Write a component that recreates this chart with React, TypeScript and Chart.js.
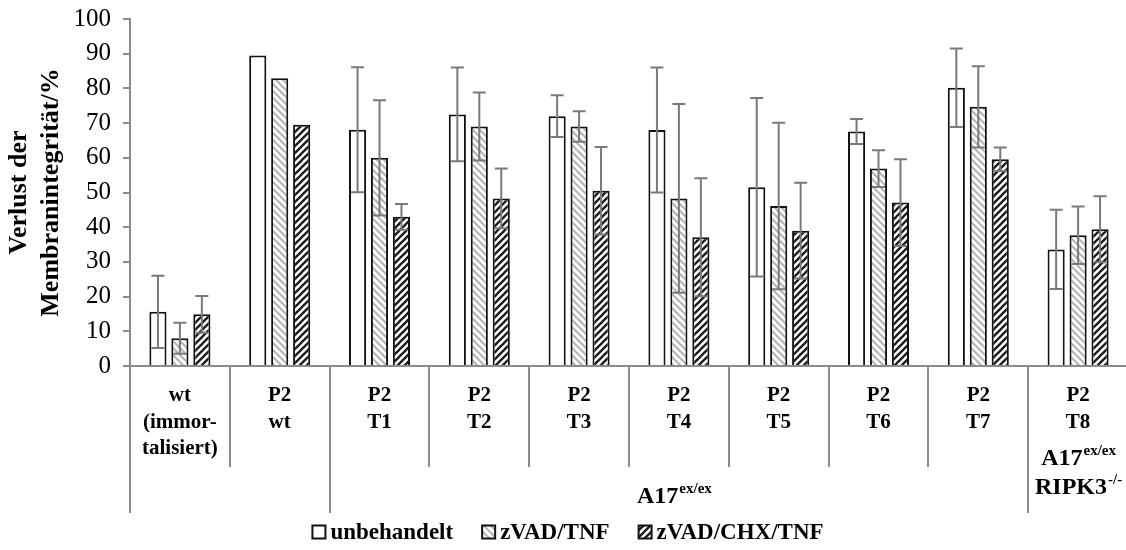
import React, { useEffect, useRef } from 'react';
import { Chart, registerables } from 'chart.js';

Chart.register(...registerables);

// ---------- data ----------
const categoryLines: string[][] = [
  ['wt', '(immor-', 'talisiert)'],
  ['P2', 'wt'],
  ['P2', 'T1'],
  ['P2', 'T2'],
  ['P2', 'T3'],
  ['P2', 'T4'],
  ['P2', 'T5'],
  ['P2', 'T6'],
  ['P2', 'T7'],
  ['P2', 'T8'],
];
const seriesNames = ['unbehandelt', 'zVAD/TNF', 'zVAD/CHX/TNF'];
const unbehandelt = [15.6, 89.5, 68.1, 72.5, 72.0, 68.0, 51.5, 67.6, 80.2, 33.6];
const unbehandeltErr = [10.4, null, 18.0, 13.5, 6.0, 18.0, 25.7, 3.6, 11.3, 11.4];
const zvadTnf = [8.0, 82.9, 60.0, 69.0, 69.0, 48.3, 46.1, 56.9, 74.7, 37.7];
const zvadTnfErr = [4.5, null, 16.6, 9.8, 4.4, 27.2, 24.0, 5.3, 11.7, 8.3];
const zvadChxTnf = [14.9, 69.5, 43.0, 48.3, 50.5, 37.1, 39.0, 47.1, 59.6, 39.4];
const zvadChxTnfErr = [5.3, null, 3.7, 8.6, 12.6, 17.0, 13.8, 12.5, 3.4, 9.5];
const yAxisTitle = ['Verlust der', 'Membranintegrität/%'];
// outer groups: [startIndex, endIndex, label lines as [base, superscript]]
const groupStarts = [0, 2, 9];
const groupEnds = [2, 9, 10];
const groupLabels: [string, string][][] = [
  [],
  [['A17', 'ex/ex']],
  [['A17', 'ex/ex'], ['RIPK3', '-/-']],
];

const SERIF = '"Liberation Serif", "Times New Roman", serif';
const AXIS_GRAY = '#8c8c8c';
const ERR_GRAY = '#7a7a7a';

function makePattern(dir: '/' | '\\', color: string, lw: number, s: number): CanvasPattern | string {
  const c = document.createElement('canvas');
  c.width = s;
  c.height = s;
  const g = c.getContext('2d');
  if (!g) return '#fff';
  g.fillStyle = '#ffffff';
  g.fillRect(0, 0, s, s);
  g.strokeStyle = color;
  g.lineWidth = lw;
  g.lineCap = 'square';
  for (const k of [-s, 0, s]) {
    g.beginPath();
    if (dir === '/') {
      g.moveTo(k, s);
      g.lineTo(k + s, 0);
    } else {
      g.moveTo(k, 0);
      g.lineTo(k + s, s);
    }
    g.stroke();
  }
  const p = g.createPattern(c, 'repeat');
  return p || '#fff';
}

export default function App() {
  const ref = useRef<HTMLCanvasElement | null>(null);

  useEffect(() => {
    document.body.style.margin = '0';
    const canvas = ref.current;
    if (!canvas) return;

    const fills = [
      '#ffffff',
      makePattern('\\', '#b3b3b3', 2, 7),
      makePattern('/', '#1a1a1a', 2.3, 7),
    ];
    const values = [unbehandelt, zvadTnf, zvadChxTnf];
    const errors = [unbehandeltErr, zvadTnfErr, zvadChxTnfErr];

    const errorBars = {
      id: 'errorBars',
      afterDatasetsDraw(chart: any) {
        const ctx = chart.ctx;
        const ys = chart.scales.y;
        ctx.save();
        ctx.strokeStyle = ERR_GRAY;
        ctx.lineWidth = 2;
        chart.data.datasets.forEach((ds: any, i: number) => {
          const meta = chart.getDatasetMeta(i);
          meta.data.forEach((el: any, j: number) => {
            const e = errors[i][j];
            if (e == null) return;
            const v = values[i][j];
            const yt = ys.getPixelForValue(v + e);
            const yb = ys.getPixelForValue(v - e);
            const x = el.x;
            const cap = 6.5;
            ctx.beginPath();
            ctx.moveTo(x, yt);
            ctx.lineTo(x, yb);
            ctx.moveTo(x - cap, yt);
            ctx.lineTo(x + cap, yt);
            ctx.moveTo(x - cap, yb);
            ctx.lineTo(x + cap, yb);
            ctx.stroke();
          });
        });
        ctx.restore();
      },
    };

    const drawSupText = (ctx: CanvasRenderingContext2D, base: string, sup: string, cx: number, cy: number) => {
      const baseFont = `bold 24px ${SERIF}`;
      const supFont = `bold 15px ${SERIF}`;
      ctx.font = baseFont;
      const wb = ctx.measureText(base).width;
      ctx.font = supFont;
      const ws = ctx.measureText(sup).width;
      const x0 = cx - (wb + ws) / 2;
      ctx.textAlign = 'left';
      ctx.textBaseline = 'middle';
      ctx.font = baseFont;
      ctx.fillText(base, x0, cy);
      ctx.font = supFont;
      ctx.fillText(sup, x0 + wb + 1, cy - 8);
    };

    const xAxisPlugin = {
      id: 'multiLevelX',
      afterDraw(chart: any) {
        const ctx = chart.ctx;
        const xs = chart.scales.x;
        const area = chart.chartArea;
        const n = categoryLines.length;
        const catW = (area.right - area.left) / n;
        const bottom = area.bottom;
        const boundary = (i: number) => xs.getPixelForValue(0) - catW / 2 + i * catW;
        ctx.save();
        // separators
        ctx.strokeStyle = AXIS_GRAY;
        ctx.lineWidth = 2;
        for (let i = 0; i <= n; i++) {
          const outer = groupStarts.includes(i) || groupEnds.includes(i);
          const x = Math.round(boundary(i));
          ctx.beginPath();
          ctx.moveTo(x, bottom);
          ctx.lineTo(x, bottom + (outer ? 147 : 101));
          ctx.stroke();
        }
        // category labels
        ctx.fillStyle = '#000';
        ctx.font = `bold 21px ${SERIF}`;
        ctx.textAlign = 'center';
        ctx.textBaseline = 'middle';
        categoryLines.forEach((lines, i) => {
          const cx = xs.getPixelForValue(i);
          lines.forEach((t, k) => {
            ctx.fillText(t, cx, bottom + 30 + k * 26.5);
          });
        });
        // group labels
        groupLabels.forEach((lines, g) => {
          if (!lines.length) return;
          const cx = (boundary(groupStarts[g]) + boundary(groupEnds[g])) / 2;
          if (lines.length === 1) {
            drawSupText(ctx, lines[0][0], lines[0][1], cx - 5, bottom + 131);
          } else {
            lines.forEach((ln, k) => {
              drawSupText(ctx, ln[0], ln[1], cx, bottom + 93 + k * 29);
            });
          }
        });
        // legend
        const box = 13;
        const gapBoxText = 5;
        const gapItems = 29;
        ctx.font = `bold 23px ${SERIF}`;
        const widths = seriesNames.map((s) => box + gapBoxText + ctx.measureText(s).width);
        const total = widths.reduce((a, b) => a + b, 0) + gapItems * (seriesNames.length - 1);
        let x = 568 - total / 2;
        const ly = 532;
        seriesNames.forEach((s, i) => {
          ctx.fillStyle = fills[i] as any;
          ctx.fillRect(x, ly - box / 2, box, box);
          ctx.strokeStyle = '#111';
          ctx.lineWidth = 2;
          ctx.strokeRect(x, ly - box / 2, box, box);
          ctx.fillStyle = '#000';
          ctx.textAlign = 'left';
          ctx.textBaseline = 'middle';
          ctx.fillText(s, x + box + gapBoxText, ly + 1);
          x += widths[i] + gapItems;
        });
        ctx.restore();
      },
    };

    const chart = new Chart(canvas, {
      type: 'bar',
      data: {
        labels: categoryLines.map((l) => l.join(' ')),
        datasets: seriesNames.map((name, i) => ({
          label: name,
          data: values[i],
          backgroundColor: fills[i] as any,
          borderColor: '#111111',
          borderWidth: 2,
          categoryPercentage: 0.66,
          barPercentage: 0.78,
        })),
      },
      options: {
        responsive: false,
        animation: false,
        layout: { padding: { top: 19, right: 12, left: 0, bottom: 0 } },
        plugins: {
          legend: { display: false },
          tooltip: { enabled: false },
        },
        scales: {
          x: {
            afterFit: (s: any) => {
              s.height = 184;
            },
            ticks: { display: false },
            grid: { display: false },
            border: { display: true, color: AXIS_GRAY, width: 2 },
          },
          y: {
            min: 0,
            max: 100,
            afterFit: (s: any) => {
              s.width = 130;
            },
            ticks: {
              stepSize: 10,
              font: { family: SERIF, size: 25, lineHeight: 0.4 },
              color: '#000',
              padding: 12,
            },
            grid: {
              display: true,
              drawOnChartArea: false,
              drawTicks: true,
              tickLength: 7,
              color: AXIS_GRAY,
              lineWidth: 2,
            },
            border: { display: true, color: AXIS_GRAY, width: 2 },
            title: {
              display: true,
              text: yAxisTitle,
              font: { family: SERIF, size: 26, weight: 'bold' },
              color: '#000',
              padding: { top: 4, bottom: 0 },
            },
          },
        },
      },
      plugins: [errorBars, xAxisPlugin],
    } as any);

    return () => {
      chart.destroy();
    };
  }, []);

  return (
    <div style={{ position: 'absolute', left: 0, top: 0, width: 1126, height: 550, overflow: 'hidden', background: '#fff' }}>
      <canvas ref={ref} width={1140} height={550} style={{ display: 'block' }} />
    </div>
  );
}
